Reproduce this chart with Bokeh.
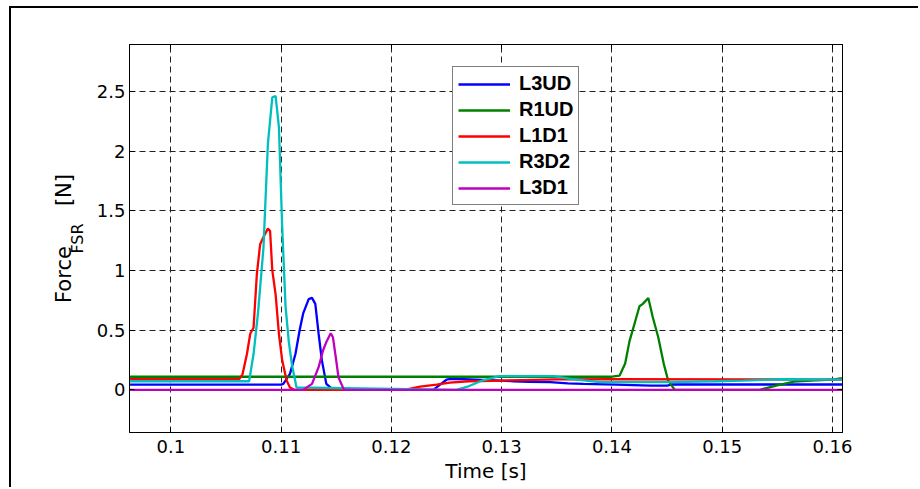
from bokeh.plotting import figure
from bokeh.models import Range1d, FixedTicker, LinearAxis, Legend, LegendItem
from bokeh.embed import file_html
from bokeh.resources import INLINE

# ---- data ----
x_ticks = [0.10, 0.11, 0.12, 0.13, 0.14, 0.15, 0.16]
x_tick_labels = ["0.1", "0.11", "0.12", "0.13", "0.14", "0.15", "0.16"]
y_ticks = [0.0, 0.5, 1.0, 1.5, 2.0, 2.5]
y_tick_labels = ["0", "0.5", "1", "1.5", "2", "2.5"]

series_names = ["L3UD", "R1UD", "L1D1", "R3D2", "L3D1"]
series_colors = ["#0000ff", "#008000", "#ff0000", "#00bfbf", "#bf00bf"]

l3ud_t = [0.0963, 0.1100, 0.1102, 0.1108, 0.1113, 0.1117, 0.1120, 0.1125, 0.1128, 0.1131,
          0.1134, 0.1137, 0.1141, 0.1146, 0.1150, 0.1238, 0.1245, 0.1250, 0.1254, 0.1265,
          0.1283, 0.1300, 0.1311, 0.1325, 0.1344, 0.1360, 0.1374, 0.1404, 0.1435, 0.1450,
          0.1455, 0.1500, 0.1550, 0.1610]
l3ud_f = [0.044, 0.044, 0.05, 0.134, 0.30, 0.51, 0.64, 0.76, 0.77, 0.72,
          0.47, 0.245, 0.05, 0.01, 0.0, 0.0, 0.05, 0.085, 0.092, 0.09,
          0.084, 0.078, 0.072, 0.068, 0.064, 0.055, 0.05, 0.044, 0.036, 0.036,
          0.045, 0.045, 0.045, 0.045]

r1ud_t = [0.0963, 0.1400, 0.1407, 0.1412, 0.1416, 0.1421, 0.1425, 0.1428, 0.1433, 0.1437,
          0.1442, 0.1447, 0.1451, 0.1457, 0.1534, 0.1549, 0.1565, 0.1585, 0.1601, 0.1607,
          0.1610]
r1ud_f = [0.11, 0.11, 0.12, 0.22, 0.41, 0.57, 0.70, 0.72, 0.77, 0.61,
          0.44, 0.218, 0.078, 0.0, 0.0, 0.036, 0.07, 0.08, 0.086, 0.097,
          0.097]

l1d1_t = [0.0963, 0.1062, 0.1065, 0.1069, 0.1072, 0.1075, 0.1078, 0.1081, 0.1084, 0.1088,
          0.1090, 0.1092, 0.1095, 0.1098, 0.1101, 0.1105, 0.1108, 0.1112, 0.1212, 0.1226,
          0.1241, 0.1253, 0.1270, 0.1300, 0.1330, 0.1350, 0.1400, 0.1527, 0.1610]
l1d1_f = [0.09, 0.09, 0.13, 0.30, 0.47, 0.52, 0.97, 1.22, 1.28, 1.35,
          1.33, 1.0, 0.80, 0.47, 0.245, 0.078, 0.02, 0.0, 0.0, 0.028,
          0.044, 0.061, 0.072, 0.078, 0.084, 0.088, 0.09, 0.088, 0.085]

r3d2_t = [0.0963, 0.1071, 0.1075, 0.1079, 0.1084, 0.1088, 0.1092, 0.1095, 0.1098, 0.1101,
          0.1104, 0.1107, 0.1110, 0.1114, 0.1259, 0.1270, 0.1283, 0.1298, 0.1347, 0.1362,
          0.1389, 0.1450, 0.1494, 0.1519, 0.1555, 0.1610]
r3d2_f = [0.072, 0.072, 0.30, 0.64, 1.19, 2.06, 2.45, 2.46, 2.2, 1.36,
          0.70, 0.40, 0.2, 0.02, 0.0, 0.03, 0.08, 0.115, 0.115, 0.092,
          0.064, 0.064, 0.072, 0.078, 0.089, 0.086]

l3d1_t = [0.0963, 0.1120, 0.1128, 0.1134, 0.1138, 0.1141, 0.1145, 0.1147, 0.1150, 0.1152,
          0.1157, 0.1610]
l3d1_f = [0.0, 0.0, 0.05, 0.19, 0.33, 0.40, 0.474, 0.44, 0.245, 0.105,
          0.0, 0.0]

series_t = [l3ud_t, r1ud_t, l1d1_t, r3d2_t, l3d1_t]
series_f = [l3ud_f, r1ud_f, l1d1_f, r3d2_f, l3d1_f]

X0, X1 = 0.09625, 0.16091
Y0, Y1 = -0.357, 2.892

def px2y(py):
    # page pixel row -> data value (frame spans rows 44..432)
    return Y1 - (py - 44) / 388.0 * (Y1 - Y0)

p = figure(width=909, height=481, output_backend="svg", toolbar_location=None,
           x_range=Range1d(X0, X1), y_range=Range1d(Y0, Y1),
           min_border_left=118, min_border_top=36, min_border_right=78, min_border_bottom=57)
p.margin = (6, 0, 0, 9)
p.styles = {"border-left": "2px solid black", "border-top": "2px solid black"}
p.background_fill_color = "white"
p.border_fill_color = "white"
p.outline_line_color = "black"
p.outline_line_width = 1

tick_font = "DejaVu Sans"
for ax in (p.xaxis[0], p.yaxis[0]):
    ax.major_tick_in = 5
    ax.major_tick_out = 0
    ax.minor_tick_in = 0
    ax.minor_tick_out = 0
    ax.axis_line_color = "black"
    ax.major_tick_line_color = "black"
    ax.major_label_text_font = tick_font
    ax.major_label_text_font_size = "18px"
    ax.major_label_text_color = "black"

p.xaxis[0].ticker = FixedTicker(ticks=x_ticks)
p.xaxis[0].major_label_overrides = {t: s for t, s in zip(x_ticks, x_tick_labels)}
p.xaxis[0].major_label_standoff = 7
p.xaxis[0].axis_label = "Time [s]"
p.xaxis[0].axis_label_text_font = "DejaVu Sans"
p.xaxis[0].axis_label_text_font_size = "20px"
p.xaxis[0].axis_label_text_font_style = "normal"
p.xaxis[0].axis_label_text_color = "black"
p.xaxis[0].axis_label_standoff = 3
p.yaxis[0].ticker = FixedTicker(ticks=y_ticks)
p.yaxis[0].major_label_overrides = {t: s for t, s in zip(y_ticks, y_tick_labels)}
p.yaxis[0].major_label_standoff = 4

top_ax = LinearAxis(ticker=FixedTicker(ticks=x_ticks), major_label_text_color=None,
                    major_tick_in=5, major_tick_out=0, minor_tick_in=0, minor_tick_out=0,
                    axis_line_color="black", major_label_standoff=0)
right_ax = LinearAxis(ticker=FixedTicker(ticks=y_ticks), major_label_text_color=None,
                      major_tick_in=5, major_tick_out=0, minor_tick_in=0, minor_tick_out=0,
                      axis_line_color="black", major_label_standoff=0)
p.add_layout(top_ax, "above")
p.add_layout(right_ax, "right")

# y label: "Force" with subscript "FSR", then "[N]" (built from two label-only axes)
sub_ax = LinearAxis(ticker=FixedTicker(ticks=[]), major_label_text_color=None,
                    major_tick_line_color=None, minor_tick_line_color=None,
                    axis_line_color=None, major_tick_in=0, major_tick_out=0,
                    minor_tick_in=0, minor_tick_out=0, major_label_standoff=0,
                    bounds=(px2y(244), px2y(213)),
                    axis_label="FSR", axis_label_text_font="DejaVu Sans",
                    axis_label_text_font_size="16px", axis_label_text_font_style="normal",
                    axis_label_text_color="black", axis_label_standoff=7)
main_ax = LinearAxis(ticker=FixedTicker(ticks=[]), major_label_text_color=None,
                     major_tick_line_color=None, minor_tick_line_color=None,
                     axis_line_color=None, major_tick_in=0, major_tick_out=0,
                     minor_tick_in=0, minor_tick_out=0, major_label_standoff=0,
                     axis_label="Force\u00a0\u00a0\u00a0\u00a0\u00a0\u00a0[N]",
                     axis_label_text_font="DejaVu Sans",
                     axis_label_text_font_size="21px", axis_label_text_font_style="normal",
                     axis_label_text_color="black", axis_label_standoff=-11)
p.add_layout(sub_ax, "left")
p.add_layout(main_ax, "left")

for g in (p.xgrid[0], p.ygrid[0]):
    g.grid_line_color = "#222222"
    g.grid_line_dash = "6 4"
    g.grid_line_width = 1
p.xgrid[0].ticker = FixedTicker(ticks=x_ticks)
p.ygrid[0].ticker = FixedTicker(ticks=y_ticks)

renderers = []
for name, col, t, f in zip(series_names, series_colors, series_t, series_f):
    r = p.line(t, f, line_color=col, line_width=2.3)
    renderers.append(r)

legend = Legend(items=[LegendItem(label=n, renderers=[r]) for n, r in zip(series_names, renderers)],
                location=(323, 227), orientation="vertical",
                border_line_color="black", border_line_width=1,
                background_fill_color="white", background_fill_alpha=1.0,
                padding=5, spacing=3, margin=0,
                glyph_width=52, glyph_height=20, label_height=20, label_standoff=9,
                label_text_font="Liberation Sans", label_text_font_style="bold",
                label_text_font_size="20px", label_text_color="black")
p.add_layout(legend)

open("out.html", "w").write(file_html(p, INLINE))
